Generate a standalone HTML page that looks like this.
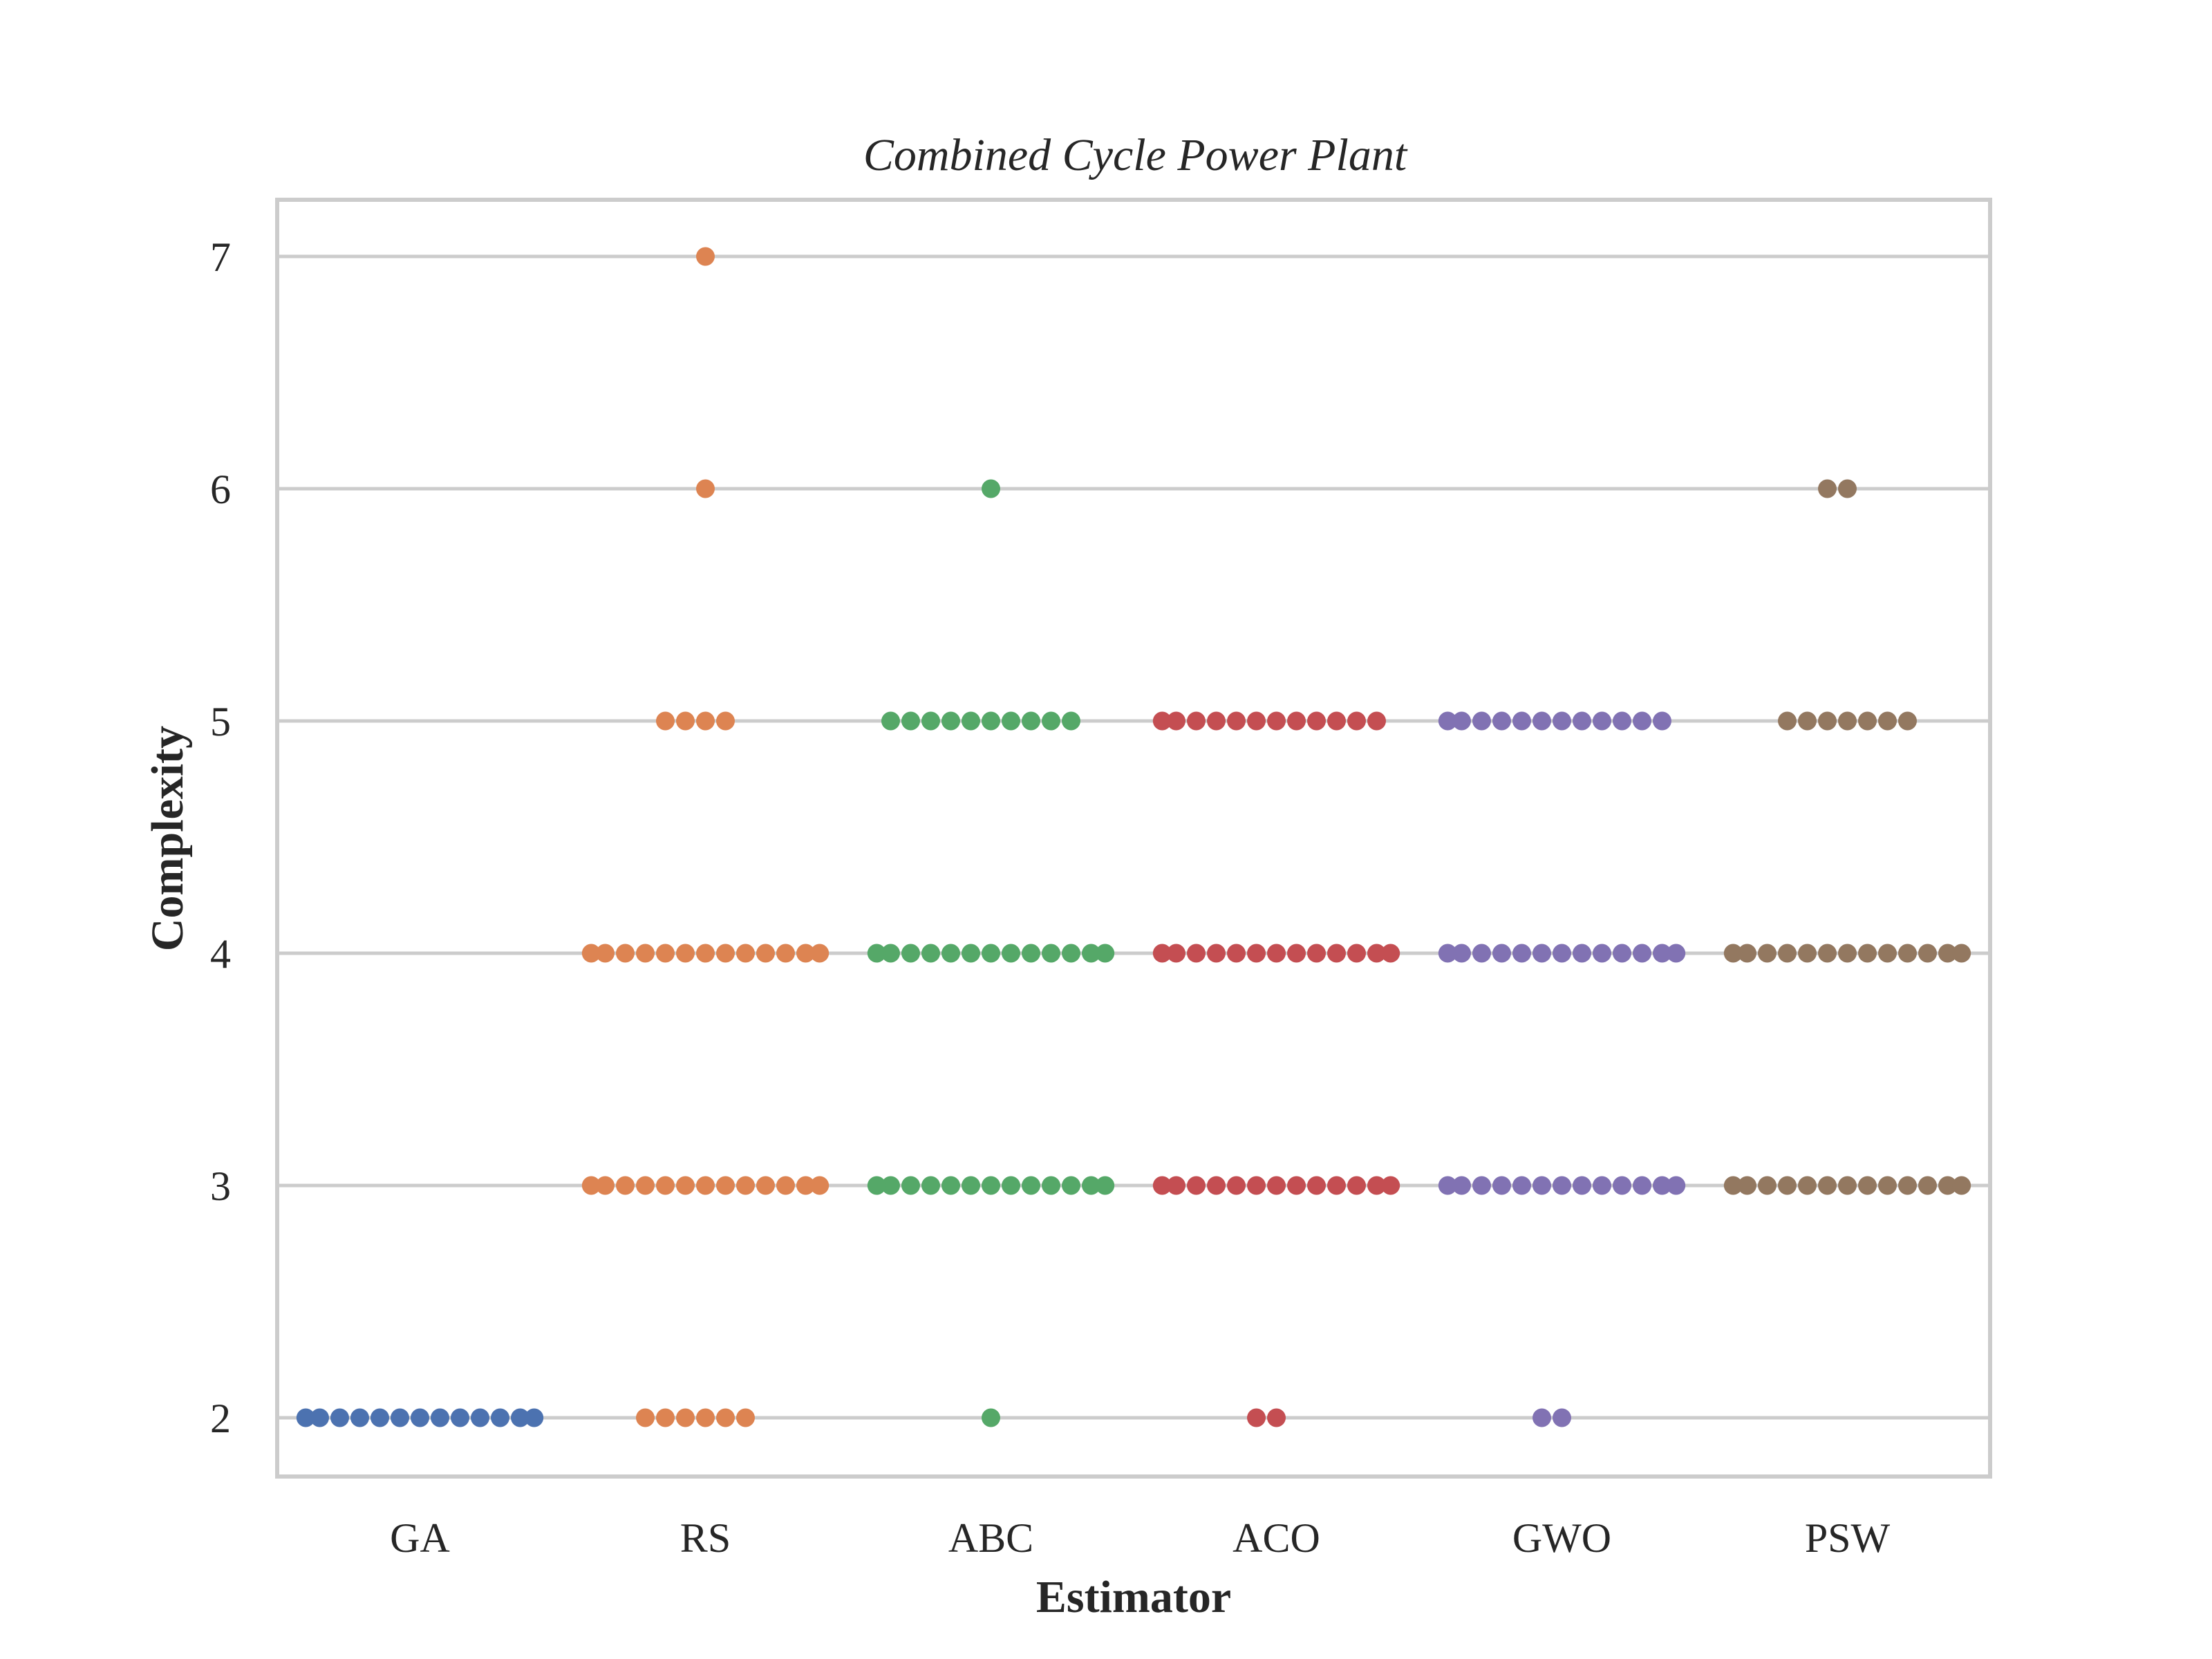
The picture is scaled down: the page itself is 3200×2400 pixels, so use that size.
<!DOCTYPE html>
<html><head><meta charset="utf-8"><style>
html,body{margin:0;padding:0;background:#fff}
svg{display:block}
</style></head><body>
<svg id="chart" width="3200" height="2400" viewBox="0 0 3200 2400" xmlns="http://www.w3.org/2000/svg" font-family="'Liberation Serif', serif">
<rect width="3200" height="2400" fill="#fff"/>
<text x="1642" y="246" font-size="66" font-style="italic" text-anchor="middle" fill="#262626">Combined Cycle Power Plant</text>
<g id="grid"></g>
<g id="dots"></g>
<rect x="401" y="289" width="2478" height="1847" fill="none" stroke="#cccccc" stroke-width="6"/>
<g id="yticks"></g>
<g id="xticks"></g>
<text x="1640" y="2332" font-size="66" font-weight="bold" text-anchor="middle" fill="#262626">Estimator</text>
<text x="0" y="0" transform="translate(264,1213) rotate(-90)" font-size="66" font-weight="bold" text-anchor="middle" fill="#262626">Complexity</text>
</svg>
<script>
const categories = ["GA","RS","ABC","ACO","GWO","PSW"];
const colors = ["#4c72b0","#dd8452","#55a868","#c44e52","#8172b3","#937860"];
const yTicks = [2,3,4,5,6,7];
// counts of runs at each complexity level [2,3,4,5,6,7] per estimator
const countsGA  = [13,0,0,0,0,0];
const countsRS  = [6,13,13,4,1,1];
const countsABC = [1,13,13,10,1,0];
const countsACO = [2,13,13,12,0,0];
const countsGWO = [2,13,13,12,0,0];
const countsPSW = [0,13,13,7,2,0];
const levels = [2,3,4,5,6,7];
const allCounts = [countsGA,countsRS,countsABC,countsACO,countsGWO,countsPSW];

const NS = "http://www.w3.org/2000/svg";
const x0 = 401, x1 = 2879, y0 = 289, y1 = 2136;
const band = (x1 - x0) / categories.length;
function xScale(i){ return x0 + band * (i + 0.5); }
function yScale(v){ return 2051 - (v - 2) * 336; }
const dotR = 13.5, dotStep = 29, halfW = band * 0.4;

const grid = document.getElementById('grid');
const yt = document.getElementById('yticks');
yTicks.forEach(v => {
  const l = document.createElementNS(NS,'line');
  l.setAttribute('x1',x0); l.setAttribute('x2',x1);
  l.setAttribute('y1',yScale(v)); l.setAttribute('y2',yScale(v));
  l.setAttribute('stroke','#cccccc'); l.setAttribute('stroke-width','5');
  
  
  grid.appendChild(l);
  const t = document.createElementNS(NS,'text');
  t.setAttribute('x',334); t.setAttribute('y',yScale(v)+21);
  t.setAttribute('font-size','60'); t.setAttribute('text-anchor','end'); t.setAttribute('fill','#262626');
  t.textContent = v;
  
  
  yt.appendChild(t);
});
const xt = document.getElementById('xticks');
categories.forEach((c,i) => {
  const t = document.createElementNS(NS,'text');
  t.setAttribute('x',xScale(i)); t.setAttribute('y',2245);
  t.setAttribute('font-size','60'); t.setAttribute('text-anchor','middle'); t.setAttribute('fill','#262626');
  t.textContent = c;
  
  
  xt.appendChild(t);
});
const dots = document.getElementById('dots');
allCounts.forEach((counts,i) => {
  counts.forEach((n,li) => {
    for (let k = 0; k < n; k++) {
      let off = k === 0 ? 0 : (k % 2 === 1 ? -Math.ceil(k/2) : k/2);
      let dx = off * dotStep;
      if (dx > halfW) dx = halfW;
      if (dx < -halfW) dx = -halfW;
      const c = document.createElementNS(NS,'circle');
      c.setAttribute('cx', xScale(i) + dx);
      c.setAttribute('cy', yScale(levels[li]));
      c.setAttribute('r', dotR);
      c.setAttribute('fill', colors[i]);
      
      
      dots.appendChild(c);
    }
  });
});
</script>
</body></html>
